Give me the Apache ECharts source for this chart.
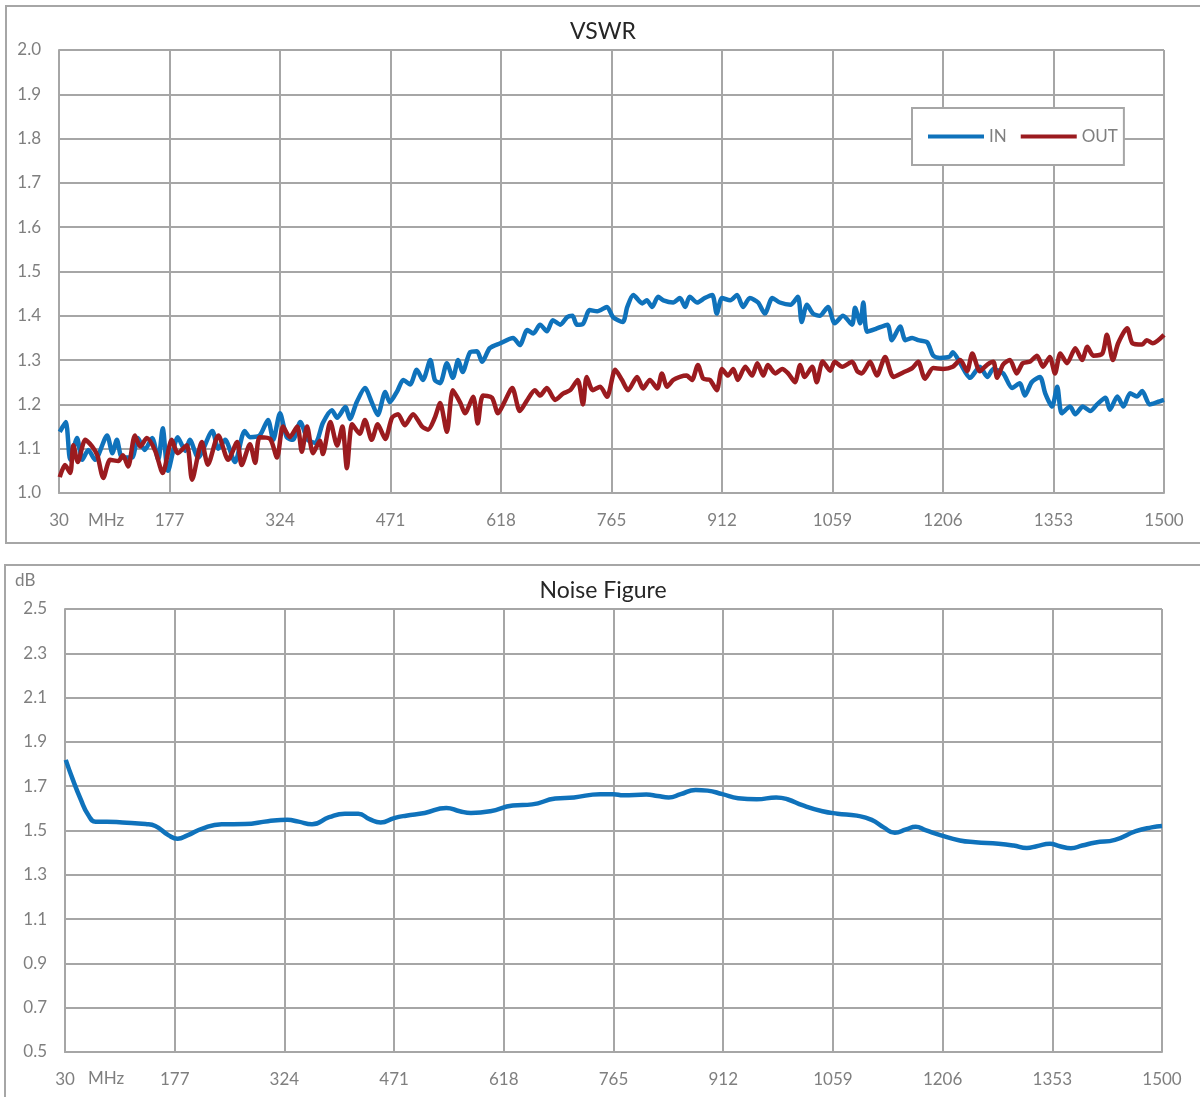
<!DOCTYPE html>
<html>
<head>
<meta charset="utf-8">
<title>VSWR / Noise Figure</title>
<script src="https://cdn.jsdelivr.net/npm/echarts@6/dist/echarts.min.js"></script>
<style>
  html, body { margin: 0; padding: 0; background: #fff; }
  #chart { width: 1200px; height: 1097px; }
</style>
</head>
<body>
<div id="chart"></div>
<script>
// x ticks (MHz) shared by both charts
var xTicks = [30, 177, 324, 471, 618, 765, 912, 1059, 1206, 1353, 1500];

// VSWR - IN
var inFreq = [31, 39, 45, 54, 61, 69, 78, 94, 101, 107, 114, 127, 135, 144, 154, 162, 168, 175, 188, 198, 204, 215, 234, 242, 251, 264, 277,
  284, 297, 308, 315, 324, 333, 341, 351, 361, 371, 381, 393, 400, 411, 417, 426, 437, 446, 454, 464, 470, 480, 488, 497, 506, 514, 524, 530,
  537, 546, 554, 561, 567, 577, 586, 593, 603, 617, 634, 643, 653, 661, 670, 679, 687, 697, 706, 713, 719, 727, 736, 746, 759, 767, 780, 786, 794,
  806, 812, 819, 827, 834, 847, 856, 863, 869, 879, 889, 899, 905, 912, 923, 932, 940, 949, 960, 969, 979, 989, 1003, 1013, 1018, 1025, 1033,
  1042, 1053, 1062, 1073, 1085, 1089, 1096, 1100, 1105, 1116, 1132, 1138, 1149, 1156, 1165, 1173, 1185, 1193, 1202, 1215, 1219, 1229, 1242,
  1255, 1265, 1273, 1286, 1298, 1308, 1315, 1324, 1335, 1342, 1351, 1358, 1364, 1375, 1382, 1392, 1402, 1411, 1422, 1428, 1438, 1446, 1455,
  1464, 1471, 1481, 1491, 1500];
var inVswr = [1.138, 1.16, 1.075, 1.124, 1.075, 1.097, 1.075, 1.13, 1.09, 1.12, 1.08, 1.08, 1.124, 1.097, 1.124, 1.075, 1.146, 1.05, 1.126, 1.095, 1.12, 1.08, 1.14, 1.10, 1.12, 1.07, 1.14,
  1.126, 1.13, 1.165, 1.12, 1.18, 1.126, 1.12, 1.16, 1.12, 1.113, 1.158, 1.187, 1.17, 1.194, 1.167, 1.205, 1.237, 1.205, 1.176, 1.228, 1.205, 1.23, 1.255, 1.245, 1.278, 1.255, 1.30, 1.255,
  1.248, 1.293, 1.26, 1.30, 1.273, 1.318, 1.32, 1.296, 1.327, 1.338, 1.35, 1.334, 1.368, 1.36, 1.38, 1.365, 1.39, 1.38, 1.397, 1.40, 1.38, 1.382, 1.413, 1.41, 1.42, 1.397, 1.386, 1.42, 1.447,
  1.428, 1.435, 1.42, 1.443, 1.435, 1.43, 1.44, 1.42, 1.443, 1.43, 1.44, 1.447, 1.405, 1.44, 1.435, 1.447, 1.42, 1.44, 1.43, 1.405, 1.44, 1.43, 1.425, 1.443, 1.386, 1.425, 1.405,
  1.40, 1.42, 1.383, 1.40, 1.38, 1.418, 1.383, 1.43, 1.364, 1.37, 1.38, 1.345, 1.376, 1.345, 1.35, 1.345, 1.34, 1.31, 1.305, 1.308, 1.318, 1.293, 1.26,
  1.285, 1.262, 1.28, 1.27, 1.237, 1.248, 1.22, 1.25, 1.262, 1.225, 1.195, 1.24, 1.18, 1.195, 1.178, 1.195, 1.185, 1.20, 1.215, 1.188, 1.218, 1.195, 1.225,
  1.218, 1.23, 1.20, 1.205, 1.21];

// VSWR - OUT
var outFreq = [31, 38, 45, 49, 55, 65, 74, 81, 89, 98, 109, 115, 122, 131, 138, 147, 158, 168, 180, 188, 200, 207, 220, 228, 242, 255, 267, 273,
  284, 291, 297, 311, 320, 328, 337, 347, 353, 360, 368, 377, 381, 391, 400, 407, 413, 420, 430, 437, 446, 454, 464, 473, 481, 490, 501, 513, 521, 530,
  537, 546, 554, 564, 570, 581, 587, 594, 606, 614, 621, 633, 643, 653, 663, 670, 679, 690, 701, 710, 720, 727, 732, 740, 750, 759, 770, 779, 787,
  799, 807, 816, 826, 832, 839, 847, 856, 865, 872, 880, 887, 896, 905, 912, 920, 927, 933, 943, 952, 959, 967, 973, 983, 992, 1000, 1009, 1016,
  1022, 1032, 1038, 1046, 1056, 1062, 1072, 1085, 1092, 1098, 1109, 1118, 1129, 1140, 1153, 1165, 1173, 1182, 1193, 1206, 1219, 1229, 1238, 1245,
  1255, 1265, 1273, 1278, 1286, 1295, 1304, 1312, 1322, 1331, 1339, 1348, 1355, 1362, 1371, 1382, 1391, 1398, 1406, 1418, 1424, 1432, 1439, 1451,
  1458, 1471, 1477, 1485, 1500];
var outVswr = [1.036, 1.063, 1.045, 1.108, 1.07, 1.12, 1.105, 1.085, 1.034, 1.075, 1.072, 1.085, 1.06, 1.13, 1.105, 1.124, 1.095, 1.045, 1.12, 1.09, 1.108, 1.03, 1.115, 1.064, 1.13, 1.075, 1.115, 1.063,
  1.11, 1.068, 1.126, 1.122, 1.08, 1.15, 1.126, 1.15, 1.093, 1.15, 1.09, 1.118, 1.088, 1.16, 1.107, 1.15, 1.056, 1.155, 1.134, 1.165, 1.12, 1.155, 1.122, 1.17, 1.178, 1.153, 1.178, 1.15, 1.143, 1.17,
  1.203, 1.138, 1.232, 1.203, 1.18, 1.217, 1.157, 1.22, 1.215, 1.18, 1.20, 1.237, 1.185, 1.21, 1.232, 1.22, 1.237, 1.21, 1.225, 1.232, 1.255, 1.20, 1.262, 1.232, 1.24, 1.217, 1.278, 1.255, 1.232,
  1.262, 1.236, 1.255, 1.236, 1.27, 1.24, 1.255, 1.262, 1.265, 1.255, 1.289, 1.258, 1.255, 1.232, 1.28, 1.265, 1.28, 1.255, 1.285, 1.265, 1.293, 1.265, 1.289, 1.27, 1.28, 1.27, 1.25, 1.289,
  1.262, 1.285, 1.25, 1.297, 1.276, 1.296, 1.285, 1.296, 1.275, 1.27, 1.296, 1.265, 1.307, 1.262, 1.272, 1.282, 1.296, 1.258, 1.282, 1.28, 1.285, 1.30, 1.275, 1.315,
  1.275, 1.29, 1.296, 1.26, 1.29, 1.30, 1.27, 1.293, 1.297, 1.31, 1.285, 1.307, 1.27, 1.315, 1.293, 1.327, 1.30, 1.33, 1.31, 1.315, 1.357, 1.30, 1.338, 1.372,
  1.338, 1.335, 1.345, 1.338, 1.357];

// Noise figure (dB)
var nfFreq = [31, 40, 51, 61, 71, 86, 107, 138, 151, 169, 181, 194, 215, 240, 271, 302, 328, 343, 361, 384, 405, 423, 438, 453, 471, 487, 512, 541,
  559, 574, 600, 630, 656, 687, 712, 747, 765, 778, 809, 824, 839, 855, 875, 891, 911, 932, 957, 983, 998, 1019, 1045, 1065, 1091, 1111, 1127,
  1142, 1157, 1170, 1183, 1204, 1229, 1250, 1281, 1301, 1319, 1332, 1350, 1363, 1378, 1393, 1411, 1437, 1465, 1486, 1500];
var nfVals = [1.819, 1.734, 1.641, 1.571, 1.54, 1.54, 1.536, 1.529, 1.52, 1.478, 1.463, 1.478, 1.51, 1.528, 1.529, 1.542, 1.548, 1.54, 1.528, 1.56, 1.576, 1.576, 1.551, 1.536, 1.556, 1.567, 1.579, 1.602,
  1.587, 1.579, 1.587, 1.613, 1.618, 1.644, 1.649, 1.664, 1.664, 1.659, 1.662, 1.656, 1.649, 1.664, 1.683, 1.68, 1.664, 1.646, 1.641, 1.649, 1.641, 1.613, 1.587, 1.576, 1.567, 1.548, 1.514,
  1.49, 1.505, 1.517, 1.502, 1.478, 1.455, 1.447, 1.44, 1.432, 1.421, 1.429, 1.44, 1.429, 1.42, 1.432, 1.446, 1.458, 1.497, 1.514, 1.52];

function pairs(xs, ys) {
  return xs.map(function (x, i) { return [x, ys[i]]; });
}

var chart = echarts.init(document.getElementById('chart'));
var gridColor = '#a6a6a6';
var labelColor = '#7f7f7f';
var font = 'Lato, "Open Sans", sans-serif';

function xAxis(idx) {
  return {
    type: 'value', gridIndex: idx,
    min: xTicks[0], max: xTicks[xTicks.length - 1], interval: xTicks[1] - xTicks[0],
    axisLine: { lineStyle: { color: gridColor, width: 2 } },
    axisTick: { show: false },
    splitLine: { lineStyle: { color: gridColor, width: 2 } },
    axisLabel: { color: labelColor, fontSize: 17, fontFamily: font, margin: 19,
      formatter: function (v) { return String(v); } }
  };
}
function yAxis(idx, min, max, step) {
  return {
    type: 'value', gridIndex: idx, min: min, max: max, interval: step,
    axisLine: { show: true, lineStyle: { color: gridColor, width: 2 } },
    axisTick: { show: false },
    splitLine: { lineStyle: { color: gridColor, width: 2 } },
    axisLabel: { color: labelColor, fontSize: 17, fontFamily: font, margin: 18,
      formatter: function (v) { return v.toFixed(1); } }
  };
}

var option = {
  animation: false,
  backgroundColor: '#fff',
  title: [
    { text: 'VSWR', left: 598, top: 15, textAlign: 'center',
      textStyle: { color: '#262626', fontSize: 23, fontWeight: 'normal', fontFamily: font } },
    { text: 'Noise Figure', left: 598, top: 574, textAlign: 'center',
      textStyle: { color: '#262626', fontSize: 23, fontWeight: 'normal', fontFamily: font } }
  ],
  legend: {
    data: ['IN', 'OUT'],
    icon: 'path://M0,0 L56,0 L56,4 L0,4 Z',
    left: 912, top: 108,
    padding: [20, 6, 20, 16],
    itemWidth: 56, itemHeight: 4, itemGap: 14,
    backgroundColor: '#fff',
    borderColor: gridColor, borderWidth: 2,
    textStyle: { color: labelColor, fontSize: 17, fontFamily: font }
  },
  grid: [
    { left: 59, top: 50, width: 1105, height: 443 },
    { left: 65, top: 609, width: 1097, height: 443 }
  ],
  xAxis: [xAxis(0), xAxis(1)],
  yAxis: [yAxis(0, 1.0, 2.0, 0.1), yAxis(1, 0.5, 2.5, 0.2)],
  graphic: [
    { type: 'rect', shape: { x: 6, y: 6, width: 1210, height: 537 }, style: { fill: 'none', stroke: gridColor, lineWidth: 2 }, z: -1 },
    { type: 'rect', shape: { x: 5, y: 565, width: 1210, height: 545 }, style: { fill: 'none', stroke: gridColor, lineWidth: 2 }, z: -1 },
    { type: 'text', left: 88, top: 512, style: { text: 'MHz', fill: labelColor, font: '17px ' + font } },
    { type: 'text', left: 88, top: 1070, style: { text: 'MHz', fill: labelColor, font: '17px ' + font } },
    { type: 'text', left: 15, top: 572, style: { text: 'dB', fill: labelColor, font: '17px ' + font } }
  ],
  series: [
    { name: 'IN', type: 'line', xAxisIndex: 0, yAxisIndex: 0, data: pairs(inFreq, inVswr),
      symbol: 'none', smooth: 0.25, lineStyle: { color: '#0f72bb', width: 4.5 }, itemStyle: { color: '#0f72bb' } },
    { name: 'OUT', type: 'line', xAxisIndex: 0, yAxisIndex: 0, data: pairs(outFreq, outVswr),
      symbol: 'none', smooth: 0.25, lineStyle: { color: '#9b1b1f', width: 4.5 }, itemStyle: { color: '#9b1b1f' } },
    { name: 'NF', type: 'line', xAxisIndex: 1, yAxisIndex: 1, data: pairs(nfFreq, nfVals),
      symbol: 'none', smooth: 0.5, lineStyle: { color: '#0f72bb', width: 4.5 }, itemStyle: { color: '#0f72bb' } }
  ]
};

chart.setOption(option);
window.onresize = chart.resize;
</script>
</body>
</html>
